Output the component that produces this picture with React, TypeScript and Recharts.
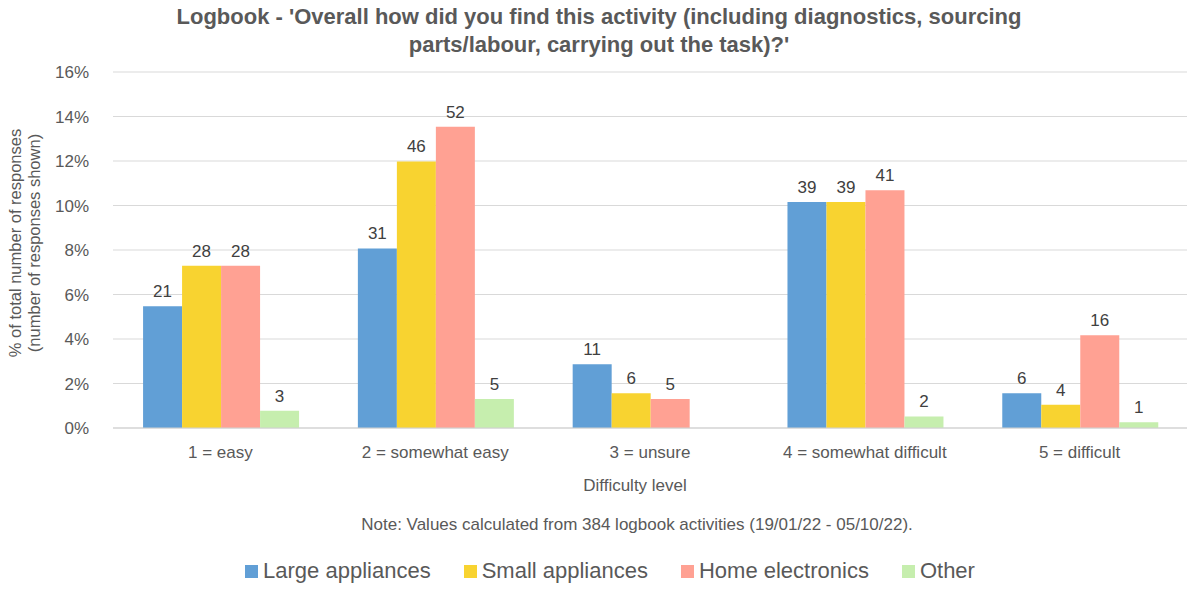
import React from 'react';
import { BarChart, Bar, XAxis, YAxis, CartesianGrid, LabelList } from 'recharts';

const categories = ['1 = easy', '2 = somewhat easy', '3 = unsure', '4 = somewhat difficult', '5 = difficult'];
const seriesNames = ['Large appliances', 'Small appliances', 'Home electronics', 'Other'];
const colors = ['#619FD6', '#F8D330', '#FFA193', '#C6EEAE'];

// % of total responses
const largePct = [5.47, 8.07, 2.86, 10.16, 1.56];
const smallPct = [7.29, 11.98, 1.56, 10.16, 1.04];
const homePct = [7.29, 13.54, 1.3, 10.68, 4.17];
const otherPct: (number | null)[] = [0.78, 1.3, null, 0.52, 0.26];

// number of responses (labels)
const largeN = [21, 31, 11, 39, 6];
const smallN = [28, 46, 6, 39, 4];
const homeN = [28, 52, 5, 41, 16];
const otherN: (number | null)[] = [3, 5, null, 2, 1];

const yTicks = [0, 2, 4, 6, 8, 10, 12, 14, 16];

const data = categories.map((c, i) => ({
  cat: c,
  s0: largePct[i], n0: largeN[i],
  s1: smallPct[i], n1: smallN[i],
  s2: homePct[i], n2: homeN[i],
  s3: otherPct[i], n3: otherN[i],
}));

const FONT = '"Liberation Sans", Arial, Helvetica, sans-serif';
const GREY = '#595959';

export default function App() {
  return (
    <div style={{ position: 'absolute', left: 0, top: 0, width: 1192, height: 592, background: '#fff', fontFamily: FONT }}>
      <div style={{ position: 'absolute', left: 0, top: 3, width: 1198, textAlign: 'center', fontWeight: 'bold', fontSize: 22, lineHeight: '28px', color: GREY }}>
        Logbook - 'Overall how did you find this activity (including diagnostics, sourcing
        <br />
        parts/labour, carrying out the task)?'
      </div>
      <BarChart
        width={1192}
        height={592}
        data={data}
        margin={{ top: 72, right: 5, bottom: 134, left: 0 }}
        barCategoryGap="14%"
        barGap={0}
      >
        <CartesianGrid vertical={false} stroke="#d9d9d9" />
        <XAxis
          dataKey="cat"
          height={30}
          tickLine={false}
          axisLine={{ stroke: '#d0d0d0' }}
          tickMargin={12}
          tick={{ fill: GREY, fontSize: 17, fontFamily: FONT }}
          interval={0}
        />
        <YAxis
          width={113}
          domain={[0, 16]}
          ticks={yTicks}
          tickFormatter={(v: number) => `${v}%`}
          tickLine={false}
          axisLine={false}
          tickMargin={18}
          tick={{ fill: GREY, fontSize: 17, fontFamily: FONT }}
        />
        {seriesNames.map((name, k) => (
          <Bar key={name} dataKey={`s${k}`} name={name} fill={colors[k]} isAnimationActive={false}>
            <LabelList
              dataKey={`n${k}`}
              position="top"
              offset={9}
              fill="#404040"
              fontSize={17}
              fontFamily={FONT}
              formatter={(v: any) => (v == null ? '' : v)}
            />
          </Bar>
        ))}
      </BarChart>
      <div style={{ position: 'absolute', left: 6, top: 243, width: 0, height: 0 }}>
        <div style={{ position: 'absolute', left: -200, top: -20, width: 400, textAlign: 'center', transform: 'rotate(-90deg)', transformOrigin: '200px 20px', fontSize: 16.5, lineHeight: '19px', color: GREY, marginLeft: 20 }}>
          % of total number of responses
          <br />
          (number of responses shown)
        </div>
      </div>
      <div style={{ position: 'absolute', left: 435, top: 476, width: 400, textAlign: 'center', fontSize: 17, color: GREY }}>
        Difficulty level
      </div>
      <div style={{ position: 'absolute', left: 237, top: 515, width: 800, textAlign: 'center', fontSize: 17, color: GREY }}>
        Note: Values calculated from 384 logbook activities (19/01/22 - 05/10/22).
      </div>
      <div style={{ position: 'absolute', left: 0, top: 558, width: 1220, display: 'flex', justifyContent: 'center', fontSize: 22, color: GREY }}>
        {seriesNames.map((name, k) => (
          <div key={name} style={{ display: 'flex', alignItems: 'center', marginRight: k < 3 ? 33 : 0 }}>
            <span style={{ display: 'inline-block', width: 13, height: 13, background: colors[k], marginRight: 5 }} />
            <span>{name}</span>
          </div>
        ))}
      </div>
    </div>
  );
}
